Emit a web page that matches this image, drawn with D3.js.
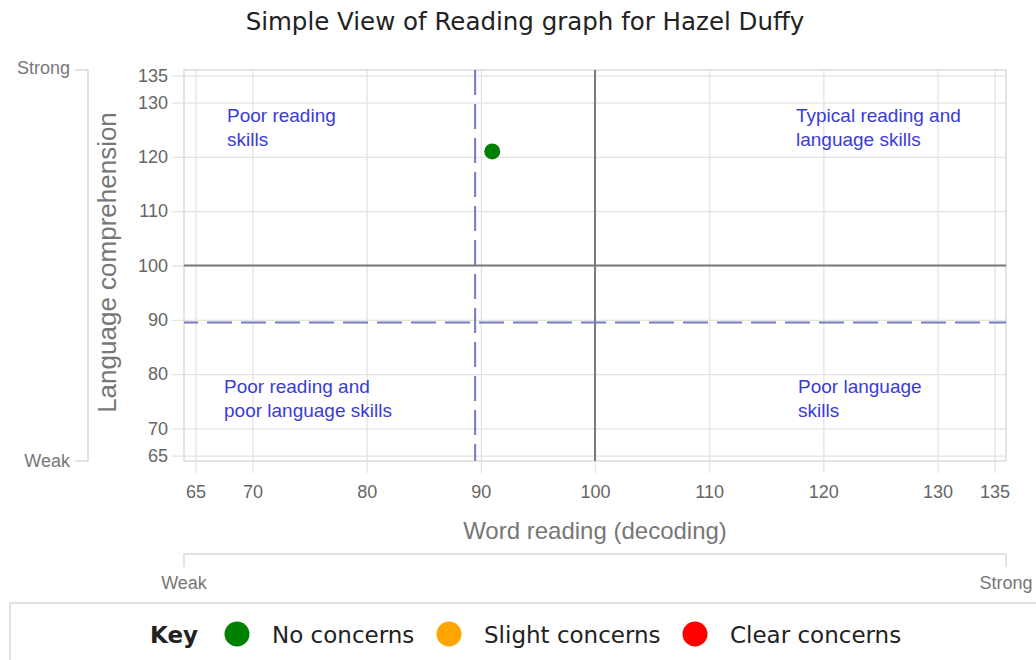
<!DOCTYPE html>
<html>
<head>
<meta charset="utf-8">
<script src="https://cdn.jsdelivr.net/npm/d3@7"></script>
<style>
  body { margin: 0; background: #fff; overflow: hidden; }
  #chart { position: absolute; left: 0; top: 0; }
  #key {
    position: absolute; left: 9px; top: 602px; width: 1040px; height: 80px;
    border: 2px solid #dfe3e8; box-sizing: border-box;
    font-family: "DejaVu Sans", sans-serif; font-size: 23px; color: #222;
  }
</style>
</head>
<body>
<div id="chart"></div>
<div id="key"></div>
<script>
// Chart values
const xTicks = [65, 70, 80, 90, 100, 110, 120, 130, 135];
const yTicks = [65, 70, 80, 90, 100, 110, 120, 130, 135];
const scoreRange = [64, 136];
const midScore = 100;
const concernCutoff = 89.5;
const pupils = [{ name: "Hazel Duffy", word: 91, lang: 121, status: "No concerns" }];
const keyLabels = ["No concerns", "Slight concerns", "Clear concerns"];
const keyColors = ["#008000", "#ffa500", "#ff0000"];
const quadrants = [
  { lines: ["Poor reading", "skills"], pos: "tl" },
  { lines: ["Typical reading and", "language skills"], pos: "tr" },
  { lines: ["Poor reading and", "poor language skills"], pos: "bl" },
  { lines: ["Poor language", "skills"], pos: "br" }
];

const width = 1036, height = 600;
const plot = { left: 184, right: 1006, top: 70, bottom: 461 };

const svg = d3.select("#chart").append("svg")
  .attr("width", width).attr("height", height);

const x = d3.scaleLinear().domain(scoreRange).range([plot.left, plot.right]);
const y = d3.scaleLinear().domain(scoreRange).range([plot.bottom, plot.top]);

// Title
svg.append("text")
  .attr("x", 525).attr("y", 30)
  .attr("text-anchor", "middle")
  .style("font-family", "DejaVu Sans, sans-serif")
  .style("font-size", "24.5px")
  .style("fill", "#222")
  .text("Simple View of Reading graph for " + pupils[0].name);

// Axes with gridlines
const axisFont = "Liberation Sans, Arial, sans-serif";
const xAxis = svg.append("g")
  .call(d3.axisBottom(x).tickValues(xTicks).tickSize(-(plot.bottom - plot.top) - 12).tickPadding(20).tickSizeOuter(0))
  .attr("transform", `translate(0,${plot.bottom + 12})`);
const yAxis = svg.append("g")
  .attr("transform", `translate(${plot.left - 12},0)`)
  .call(d3.axisLeft(y).tickValues(yTicks).tickSize(-(plot.right - plot.left) - 12).tickPadding(4).tickSizeOuter(0));

[xAxis, yAxis].forEach(g => {
  g.select(".domain").remove();
  g.selectAll("line").attr("stroke", "#e3e3e3").attr("stroke-width", 1.3);
  g.selectAll("text")
    .style("font-family", axisFont).style("font-size", "18px").style("fill", "#666");
});
xAxis.selectAll("text").attr("dy", "0.3em");

// Plot frame
svg.append("rect")
  .attr("x", plot.left).attr("y", plot.top)
  .attr("width", plot.right - plot.left).attr("height", plot.bottom - plot.top)
  .attr("fill", "none").attr("stroke", "#dcdcdc").attr("stroke-width", 1.5);

// Mid lines at 100
svg.append("line")
  .attr("x1", x(midScore)).attr("x2", x(midScore))
  .attr("y1", plot.top).attr("y2", plot.bottom)
  .attr("stroke", "#7a7a7a").attr("stroke-width", 2);
svg.append("line")
  .attr("x1", plot.left).attr("x2", plot.right)
  .attr("y1", y(midScore)).attr("y2", y(midScore))
  .attr("stroke", "#7a7a7a").attr("stroke-width", 2);

// Concern cutoffs (dashed)
svg.append("line")
  .attr("x1", plot.left).attr("x2", plot.right)
  .attr("y1", y(concernCutoff)).attr("y2", y(concernCutoff))
  .attr("stroke", "#7479c4").attr("stroke-width", 2)
  .attr("stroke-dasharray", "25,9").attr("stroke-dashoffset", 11);
svg.append("line")
  .attr("x1", x(concernCutoff)).attr("x2", x(concernCutoff))
  .attr("y1", plot.top).attr("y2", plot.bottom)
  .attr("stroke", "#7479c4").attr("stroke-width", 2)
  .attr("stroke-dasharray", "25,9");

// Quadrant labels
const qx = { tl: plot.left + 43, bl: plot.left + 40, tr: plot.right - 210, br: plot.right - 208 };
const qy = { tl: 122, tr: 122, bl: 393, br: 393 };
quadrants.forEach(q => {
  const t = svg.append("text")
    .attr("x", qx[q.pos]).attr("y", qy[q.pos])
    .style("font-family", axisFont).style("font-size", "19px").style("fill", "#3b3bd6");
  q.lines.forEach((line, i) => {
    t.append("tspan").attr("x", qx[q.pos]).attr("dy", i === 0 ? 0 : 24).text(line);
  });
});

// Pupil point
svg.selectAll("circle.pupil")
  .data(pupils)
  .join("circle")
  .attr("class", "pupil")
  .attr("cx", d => x(d.word)).attr("cy", d => y(d.lang))
  .attr("r", 8)
  .attr("fill", d => keyColors[keyLabels.indexOf(d.status)]);

// Axis titles
svg.append("text")
  .attr("x", x(midScore)).attr("y", 539)
  .attr("text-anchor", "middle")
  .style("font-family", axisFont).style("font-size", "24px").style("fill", "#777")
  .text("Word reading (decoding)");
svg.append("text")
  .attr("transform", `translate(116,${(plot.top + plot.bottom) / 2 - 3}) rotate(-90)`)
  .attr("text-anchor", "middle")
  .style("font-family", axisFont).style("font-size", "26px").style("fill", "#777")
  .text("Language comprehension");

// Weak / Strong brackets
const bracket = "#dadada";
svg.append("path")
  .attr("d", `M75,${plot.top}H88V${plot.bottom}H75`)
  .attr("fill", "none").attr("stroke", bracket).attr("stroke-width", 1.5);
svg.append("path")
  .attr("d", `M${plot.left},567V554H${plot.right}V567`)
  .attr("fill", "none").attr("stroke", bracket).attr("stroke-width", 1.5);

const bracketText = (tx, ty, anchor, label) => svg.append("text")
  .attr("x", tx).attr("y", ty).attr("text-anchor", anchor)
  .style("font-family", axisFont).style("font-size", "18px").style("fill", "#777")
  .text(label);
bracketText(70, 74, "end", "Strong");
bracketText(70, 467, "end", "Weak");
bracketText(plot.left, 589, "middle", "Weak");
bracketText(plot.right, 589, "middle", "Strong");

// Key
const key = d3.select("#key").append("svg").attr("width", 1030).attr("height", 60);
key.append("text")
  .attr("x", 139).attr("y", 39)
  .style("font-weight", "bold").style("fill", "#222")
  .text("Key");
const keyX = [226, 438, 684];
keyLabels.forEach((label, i) => {
  key.append("circle").attr("cx", keyX[i]).attr("cy", 30).attr("r", 12.5).attr("fill", keyColors[i]);
  key.append("text").attr("x", keyX[i] + 35).attr("y", 39).style("fill", "#222").text(label);
});
</script>
</body>
</html>
